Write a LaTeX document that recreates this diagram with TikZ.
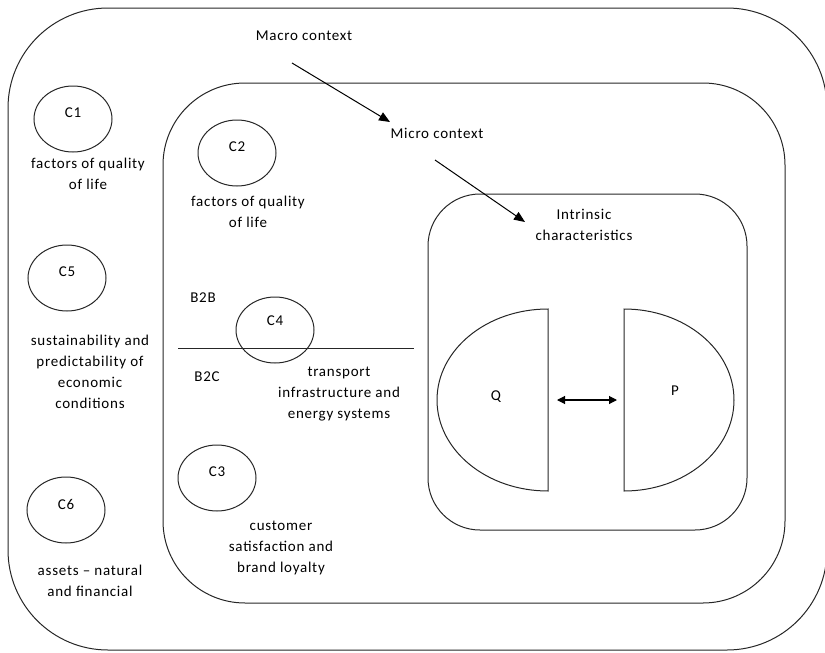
\documentclass[tikz,border=0pt]{standalone}
\usepackage{fontspec}
\setmainfont[LetterSpace=5]{Carlito}
\usetikzlibrary{shapes.geometric,arrows.meta}
\begin{document}
\begin{tikzpicture}[x=1pt,y=-1pt,
  frame/.style={draw=black!85,line width=1pt},
  oval/.style={ellipse,draw=black!85,line width=1pt,minimum width=78pt,minimum height=66pt,inner sep=0pt},
  txt/.style={inner sep=0pt,align=center,font=\fontsize{15}{21}\selectfont},
  conn/.style={draw=black,line width=1pt,-{Triangle[length=11pt,width=9pt]}},
  dconn/.style={draw=black,line width=1.1pt,{Triangle[length=8pt,width=8pt]}-{Triangle[length=8pt,width=8pt]}}]
\useasboundingbox (0,0) rectangle (825,653);
% containers
\draw[frame,rounded corners=100pt] (8,8) rectangle (827,650);
\draw[frame,rounded corners=82pt] (163,83) rectangle (785,603);
\draw[frame,rounded corners=52pt] (428,194) rectangle (747,530);
% context labels
\node[txt] (macro) at (304,36) {Macro context};
\node[txt] (micro) at (437,133) {Micro context};
\node[txt] (intr) at (584,225) {Intrinsic\\characteristics};
\coordinate (macroA) at (292,63);
\coordinate (microA) at (390,122);
\coordinate (microB) at (435,160);
\coordinate (intrA) at (525,222);
\draw[conn] (macroA) -- (microA);
\draw[conn] (microB) -- (intrA);
% C ellipses
\node[oval] (c1) at (73,119) {};
\node[txt] (c1t) at (73,113) {C1};
\node[txt] (c1d) at (88,174) {factors of quality\\of life};
\node[oval] (c2) at (237,153) {};
\node[txt] (c2t) at (237,147) {C2};
\node[txt] (c2d) at (248,212) {factors of quality\\of life};
\node[oval] (c5) at (67,278) {};
\node[txt] (c5t) at (67,272) {C5};
\node[txt] (c5d) at (90,372) {sustainability and\\predictability of\\economic\\conditions};
\node[oval] (c4) at (275,330) {};
\node[txt] (c4t) at (275,321) {C4};
\node[txt] (c4d) at (339,394) {transport\\infrastructure and\\energy systems};
\node[oval] (c3) at (217,478) {};
\node[txt] (c3t) at (217,472) {C3};
\node[txt] (c3d) at (281,548) {customer\\satisfaction and\\brand loyalty};
\node[oval] (c6) at (66,510) {};
\node[txt] (c6t) at (66,504) {C6};
\node[txt] (c6d) at (90,581) {assets – natural\\and financial};
% B2B / B2C divider
\coordinate (divL) at (178,348);
\coordinate (divR) at (414,348);
\draw[frame] (divL) -- (divR);
\node[txt] (b2b) at (203,298) {B2B};
\node[txt] (b2c) at (207,377) {B2C};
% Q and P half ellipses
\draw[frame] (548,309) arc[start angle=270,end angle=90,x radius=111,y radius=91] -- cycle;
\draw[frame] (624,309) arc[start angle=-90,end angle=90,x radius=110,y radius=91] -- cycle;
\node[txt] (q) at (496,397) {Q};
\node[txt] (p) at (675,391) {P};
\coordinate (qA) at (557,400);
\coordinate (pA) at (617,400);
\draw[dconn] (qA) -- (pA);
\end{tikzpicture}
\end{document}
